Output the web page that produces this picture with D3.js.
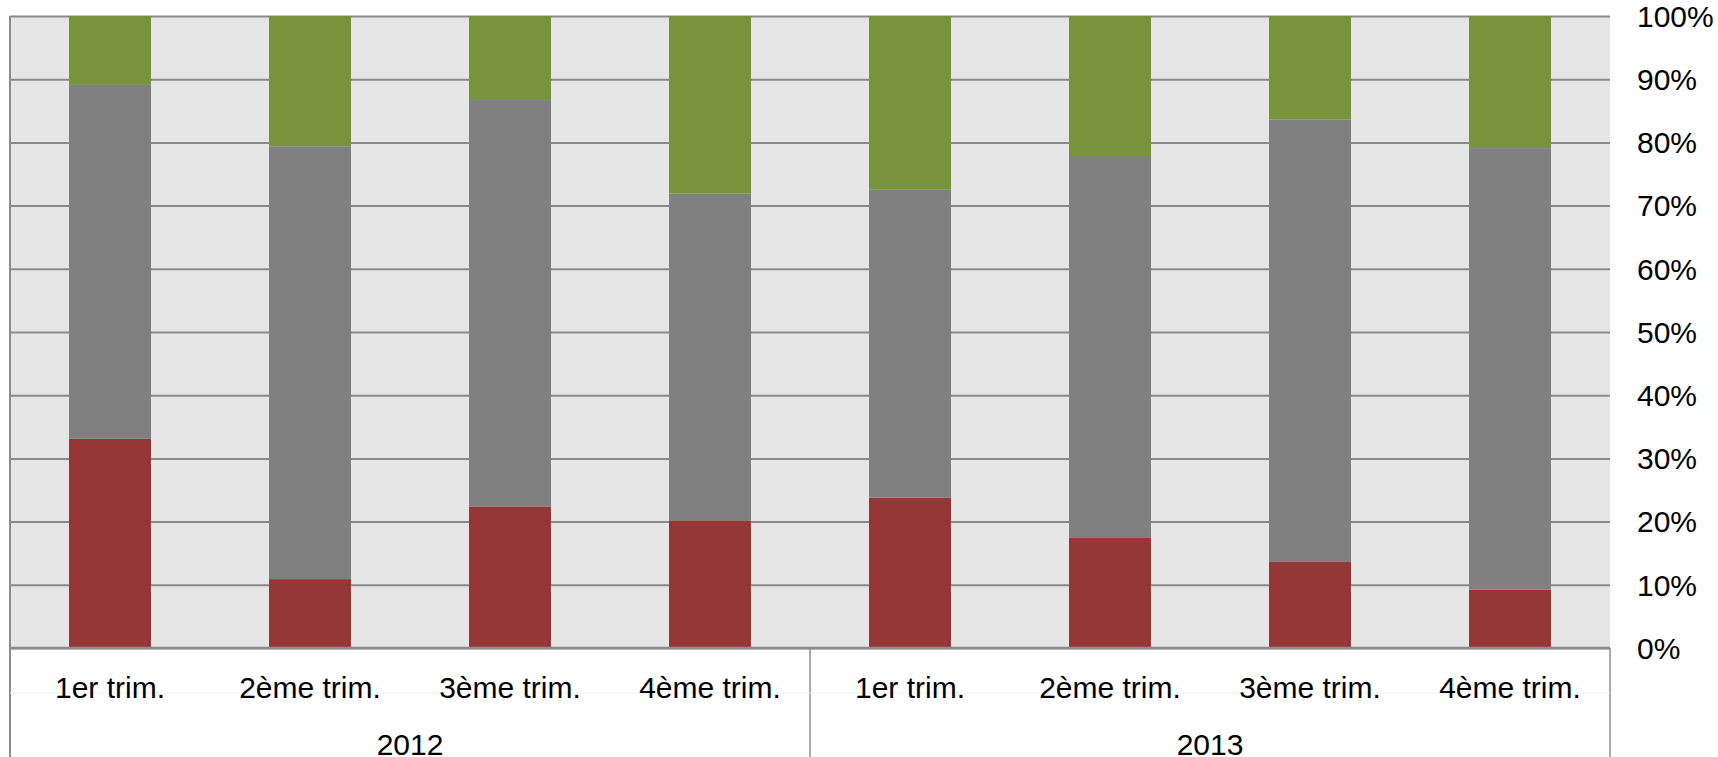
<!DOCTYPE html>
<html>
<head>
<meta charset="utf-8">
<script src="https://cdn.jsdelivr.net/npm/d3@7"></script>
<style>
  html, body { margin: 0; padding: 0; background: #fff; }
  svg { display: block; font-family: "Liberation Sans", Arial, sans-serif; }
  .gridline { stroke: #8a8a8a; stroke-width: 2; }
</style>
</head>
<body>
<div id="chart"></div>
<script>
// values (percent of each quarter)
let years = ["2012", "2013"];
let quarters = ["1er trim.", "2ème trim.", "3ème trim.", "4ème trim."];
let redShare   = [33.1, 10.9, 22.4, 20.2, 23.8, 17.4, 13.6, 9.2];
let grayShare  = [56.0, 68.5, 64.3, 51.7, 48.7, 60.6, 70.0, 69.9];
let greenShare = [10.9, 20.6, 13.3, 28.1, 27.5, 22.0, 16.4, 20.9];
let yTicks = [0, 0.1, 0.2, 0.3, 0.4, 0.5, 0.6, 0.7, 0.8, 0.9, 1];

let keys = ["red", "gray", "green"];
let colors = {red: "#953735", gray: "#808080", green: "#77933c"};

// one row per bar
let rows = [];
years.forEach(function(yr, yi) {
    quarters.forEach(function(q, qi) {
        let i = yi * quarters.length + qi;
        rows.push({id: i, year: yr, quarter: q,
                   red: redShare[i], gray: grayShare[i], green: greenShare[i]});
    });
});

let W = 1718, H = 757;
let plot = {left: 10, right: 1610, top: 16, bottom: 648};

let svg = d3.select("#chart").append("svg")
        .attr("width", W)
        .attr("height", H);

let xScale = d3.scaleBand()
        .domain(rows.map(function(d) { return d.id; }))
        .range([plot.left, plot.right])
        .padding(0);

let yearScale = d3.scaleBand()
        .domain(years)
        .range([plot.left, plot.right]);

let yScale = d3.scaleLinear()
        .domain([0, 1])
        .range([plot.bottom, plot.top]);

let barW = xScale.bandwidth() * 0.41;

// background
svg.append("rect")
    .attr("x", plot.left)
    .attr("y", plot.top)
    .attr("width", plot.right - plot.left)
    .attr("height", plot.bottom - plot.top)
    .attr("fill", "#e6e6e6");

// horizontal grid
svg.append("g")
    .attr("transform", "translate(" + plot.left + ",0)")
    .call(d3.axisRight(yScale)
        .tickValues(yTicks)
        .tickSize(plot.right - plot.left)
        .tickFormat(""))
    .call(function(g) {
        g.select(".domain").remove();
        g.selectAll("line").classed("gridline", true).attr("stroke", null);
    });

// stacked bars
let stack = d3.stack().keys(keys).offset(d3.stackOffsetExpand);
let series = stack(rows);

svg.append("g")
    .selectAll("g")
    .data(series)
    .join("g")
    .attr("fill", function(s) { return colors[s.key]; })
    .selectAll("rect")
    .data(function(s) { return s; })
    .join("rect")
    .attr("x", function(d) { return xScale(d.data.id) + (xScale.bandwidth() - barW) / 2; })
    .attr("y", function(d) { return yScale(d[1]); })
    .attr("width", barW)
    .attr("height", function(d) { return yScale(d[0]) - yScale(d[1]); });

// right value axis
svg.append("g")
    .attr("transform", "translate(" + plot.right + ",0)")
    .call(d3.axisRight(yScale)
        .tickValues(yTicks)
        .tickSize(0)
        .tickPadding(27)
        .tickFormat(d3.format(".0%")))
    .call(function(g) {
        g.select(".domain").remove();
        g.selectAll("text")
            .attr("font-size", 30)
            .attr("font-family", "'Liberation Sans', Arial, sans-serif")
            .attr("fill", "#000")
            .attr("dy", "0.34em");
    });

// category box lines
let lineCol = "#8c8c8c";
svg.append("line")
    .attr("x1", plot.left).attr("x2", plot.right)
    .attr("y1", plot.bottom).attr("y2", plot.bottom)
    .attr("stroke", lineCol).attr("stroke-width", 2.5);

svg.append("line")
    .attr("x1", plot.left).attr("x2", plot.left)
    .attr("y1", plot.top).attr("y2", H)
    .attr("stroke", lineCol).attr("stroke-width", 2);

// year separators (middle + right end)
svg.append("g")
    .selectAll("line")
    .data(years)
    .join("line")
    .attr("x1", function(d) { return yearScale(d) + yearScale.bandwidth(); })
    .attr("x2", function(d) { return yearScale(d) + yearScale.bandwidth(); })
    .attr("y1", plot.bottom)
    .attr("y2", H)
    .attr("stroke", lineCol)
    .attr("stroke-width", 1.5);

// faint line between the two label rows
svg.append("line")
    .attr("x1", plot.left).attr("x2", plot.right)
    .attr("y1", 693).attr("y2", 693)
    .attr("stroke", "#f0f0f0").attr("stroke-width", 1);

// quarter labels
svg.append("g")
    .selectAll("text")
    .data(rows)
    .join("text")
    .attr("x", function(d) { return xScale(d.id) + xScale.bandwidth() / 2; })
    .attr("y", 698)
    .attr("text-anchor", "middle")
    .attr("font-size", 30)
    .attr("fill", "#000")
    .text(function(d) { return d.quarter; });

// year labels
svg.append("g")
    .selectAll("text")
    .data(years)
    .join("text")
    .attr("x", function(d) { return yearScale(d) + yearScale.bandwidth() / 2; })
    .attr("y", 755)
    .attr("text-anchor", "middle")
    .attr("font-size", 30)
    .attr("fill", "#000")
    .text(function(d) { return d; });
</script>
</body>
</html>
